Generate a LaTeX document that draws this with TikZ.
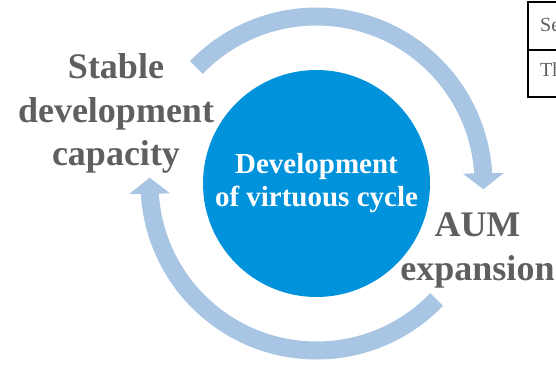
\documentclass[tikz,border=0pt]{standalone}
\usepackage{fontspec}
\setmainfont{Liberation Serif}
\usetikzlibrary{arrows.meta,bending}
\definecolor{labelgray}{RGB}{95,95,95}
\definecolor{cycleblue}{RGB}{0,146,219}
\definecolor{ringblue}{RGB}{168,198,228}

\begin{document}
\begin{tikzpicture}[x=1pt,y=1pt,
    word/.style={text=labelgray, align=center, font=\fontsize{36}{43.5}\selectfont\bfseries},
    ring/.style={draw=ringblue, line width=18pt, -{Triangle[width=40pt,length=16pt,flex]}}]
        \useasboundingbox (-316.5,-180.5) rectangle (239.5,183.5);

        \node[shape=circle,fill=cycleblue,minimum size=227pt,inner sep=0pt,text=white,align=center,
              font=\fontsize{29}{33}\selectfont\bfseries] (C) at (0,0) {Development\\of virtuous cycle};
        \node[word] (S) at (-200.5,70) {Stable\\development\\capacity};
        \node[word] (A) at (161,-67) {AUM\\expansion};

        % cycle arrows
        \coordinate (R1) at (136:167);
        \coordinate (R2) at (-44:167);
        \draw[ring] (R1) arc[start angle=136, end angle=-2, radius=167];
        \draw[ring] (R2) arc[start angle=-44, end angle=-182, radius=167];

        % table corner
        \draw[line width=2pt] (250,181.5) -- (211.5,181.5) -- (211.5,86) -- (250,86);
        \draw[line width=1.5pt] (211.5,133.5) -- (250,133.5);
        \node[anchor=base west,text=labelgray,font=\fontsize{20}{24}\selectfont,inner sep=0pt] (T1) at (223.5,151.5) {Se};
        \node[anchor=base west,text=labelgray,font=\fontsize{20}{24}\selectfont,inner sep=0pt] (T2) at (223.5,106.5) {Th};
\end{tikzpicture}
\end{document}
